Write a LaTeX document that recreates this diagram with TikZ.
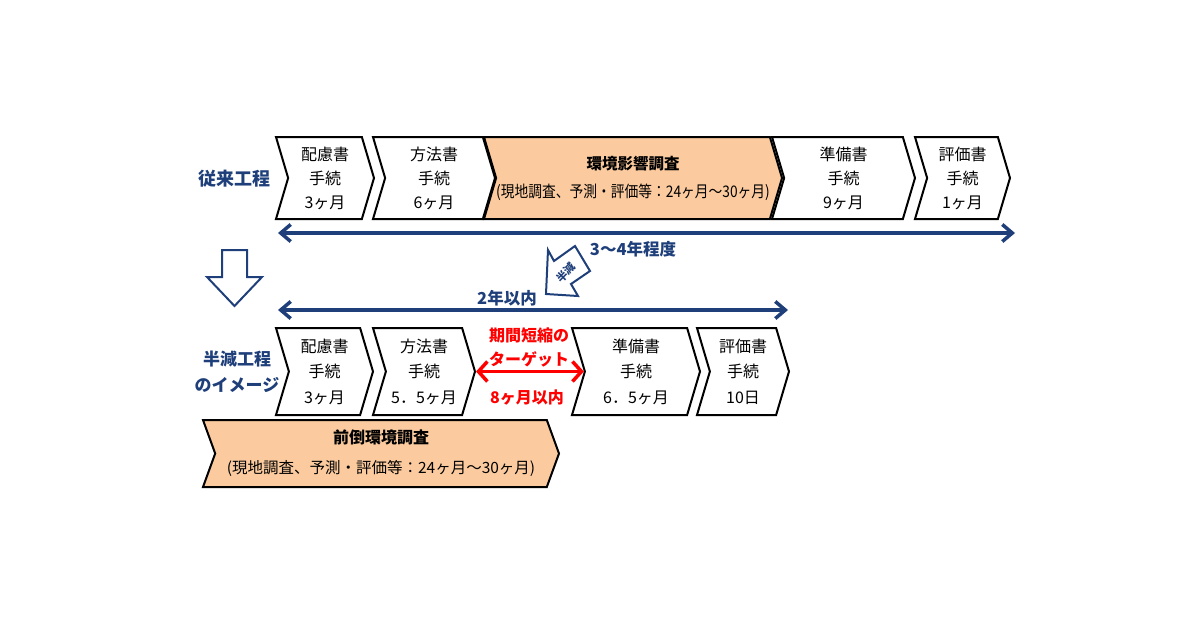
\documentclass[tikz,border=0pt]{standalone}
\usepackage{fontspec}
\setmainfont{Noto Sans CJK JP}
\usetikzlibrary{shapes.symbols,arrows.meta}
\definecolor{navy}{HTML}{1F3F7A}
\definecolor{peach}{HTML}{FBCB9F}
\tikzset{
	chev/.style={signal,signal to=east,signal from=west,signal pointer angle=147,draw=black,line width=2pt,fill=white,inner sep=0pt,align=center,font=\fontsize{16}{24}\selectfont},
	survey/.style={chev,fill=peach},
	spanarrow/.style={draw=navy,line width=3.5pt,{Straight Barb[length=10pt,width=17pt]}-{Straight Barb[length=10pt,width=17pt]}},
	cutarrow/.style={draw=red,line width=3.5pt,{Straight Barb[length=9pt,width=20pt]}-{Straight Barb[length=9pt,width=20pt]}},
	navytext/.style={text=navy,font=\bfseries\fontsize{17}{26}\selectfont,align=center},
	redtext/.style={text=red,font=\bfseries\fontsize{16}{24}\selectfont,align=center}
}
\begin{document}
\begin{tikzpicture}[x=1pt,y=-1pt]
	\useasboundingbox (0,0) rectangle (1200,630);
	\node [navytext,font=\bfseries\fontsize{18}{26}\selectfont] (old) at (234,179) {従来工程};
	\node [chev,minimum width=98pt,minimum height=82pt] (o1) at (325,178) {配慮書\\手続\\3ヶ月};
	\node [chev,minimum width=122pt,minimum height=82pt] (o2) at (434,178) {方法書\\手続\\6ヶ月};
	\node [survey,minimum width=278pt,minimum height=82pt] (o3) at (633,178) {{\bfseries\fontsize{15.5}{24}\selectfont 環境影響調査}\\[4pt]\scalebox{0.86}[1]{(現地調査、予測・評価等：24ヶ月～30ヶ月)}};
	\node [chev,minimum width=143pt,minimum height=82pt] (o4) at (843.5,178) {準備書\\手続\\9ヶ月};
	\node [chev,minimum width=95pt,minimum height=82pt] (o5) at (962.5,178) {評価書\\手続\\1ヶ月};
	\coordinate (s1) at (278,233);
	\coordinate (e1) at (1015,233);
	\draw [spanarrow] (s1) -- (e1);
	\node [navytext,font=\bfseries\fontsize{16.5}{24}\selectfont] (long) at (633,249) {3～4年程度};
	\draw [navy,line width=2pt,fill=white] (222,250) -- (247,250) -- (247,277) -- (262,277) -- (234.5,306) -- (207,277) -- (222,277) -- cycle;
	\draw [navy,line width=2pt,fill=white] (546,294) -- (548,250) -- (554,261) -- (575,246) -- (590,271) -- (571,284) -- (578,296) -- cycle;
	\node [navytext,font=\bfseries\fontsize{11}{13}\selectfont,rotate=45,inner sep=0pt] (half) at (566,273) {半減};
	\coordinate (s2) at (278,310);
	\coordinate (e2) at (788,310);
	\draw [spanarrow] (s2) -- (e2);
	\node [navytext,font=\bfseries\fontsize{16.5}{24}\selectfont] (short) at (507,298) {2年以内};
	\node [navytext] (new) at (237,372) {半減工程\\のイメージ};
	\node [chev,minimum width=97pt,minimum height=87pt,font=\fontsize{16}{25.5}\selectfont] (n1) at (324.5,371.5) {配慮書\\手続\\3ヶ月};
	\node [chev,minimum width=102pt,minimum height=87pt,font=\fontsize{16}{25.5}\selectfont] (n2) at (424,371.5) {方法書\\手続\\5．5ヶ月};
	\node [chev,minimum width=128pt,minimum height=87pt,font=\fontsize{16}{25.5}\selectfont] (n3) at (636,371.5) {準備書\\手続\\6．5ヶ月};
	\node [chev,minimum width=92pt,minimum height=87pt,font=\fontsize{16}{25.5}\selectfont] (n4) at (743,371.5) {評価書\\手続\\10日};
	\draw [cutarrow] (n2.east) -- (n3.west);
	\node [redtext] (target) at (529,347) {期間短縮の\\ターゲット};
	\node [redtext] (limit) at (527,398) {8ヶ月以内};
	\node [survey,signal pointer angle=140,minimum width=356pt,minimum height=67pt] (pre) at (381,453.5) {{\bfseries 前倒環境調査}\\[6pt]{\fontsize{15.5}{24}\selectfont(現地調査、予測・評価等：24ヶ月～30ヶ月)}};
\end{tikzpicture}
\end{document}
